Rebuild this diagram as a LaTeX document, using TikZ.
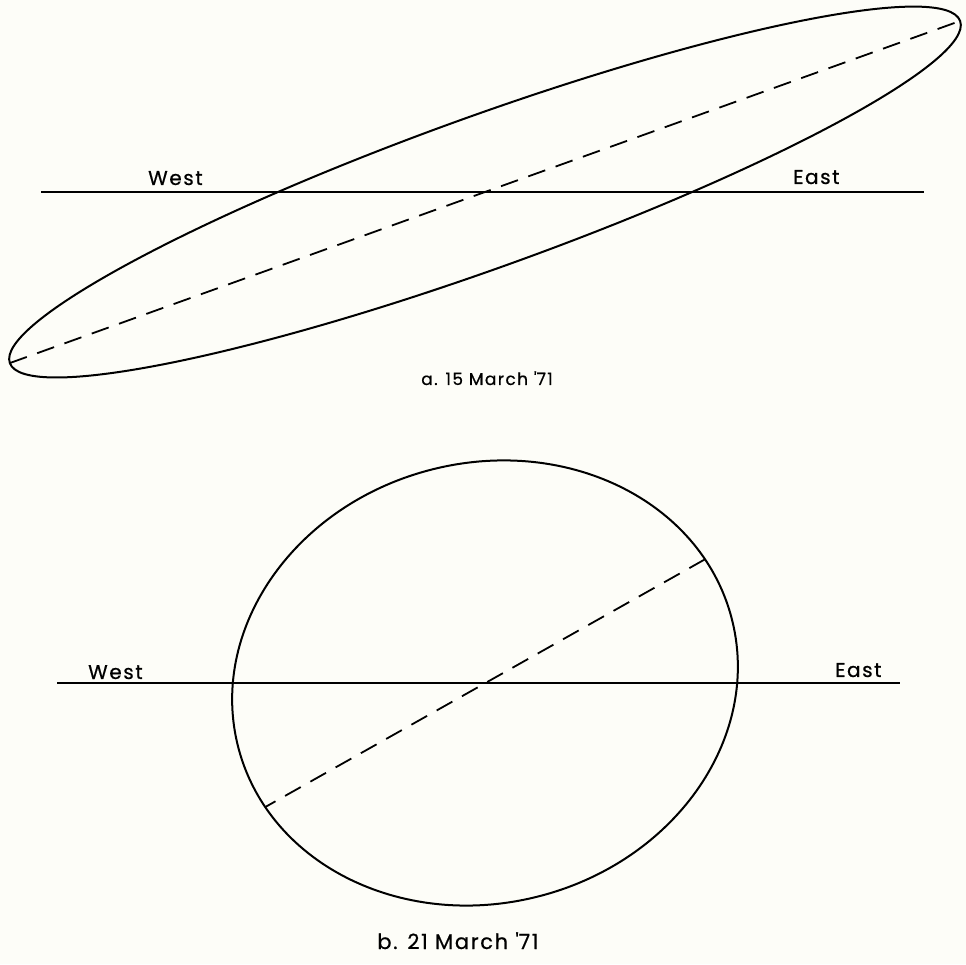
\documentclass[tikz,border=0pt]{standalone}
\usepackage{fontspec}
\setmainfont{Poppins}[LetterSpace=8, FakeBold=0.6]
\usetikzlibrary{intersections,calc}
\definecolor{paper}{RGB}{253,253,248}
\begin{document}
\begin{tikzpicture}[x=1pt,y=1pt,
  curve/.style={line width=2pt},
  axisline/.style={line width=1.8pt, dash pattern=on 18pt off 11pt},
  ewline/.style={line width=2pt},
  lbl/.style={font=\fontsize{20}{20}\selectfont, inner sep=0pt},
  capt/.style={font=\fontsize{17}{17}\selectfont, inner sep=0pt}]
\useasboundingbox[fill=paper] (0,0) rectangle (966,964);

% ---- a. 15 March '71
\coordinate (ca) at (485,772);
\draw[curve, rotate around={19.8:(ca)}] (ca) ellipse [x radius=505, y radius=76];
\coordinate (aL) at ($(ca)+(199.8:505)$);
\coordinate (aR) at ($(ca)+(19.8:505)$);
\draw[axisline] (aL) -- (aR);
\coordinate (wa1) at (41,772);
\coordinate (wa2) at (924,772);
\draw[ewline] (wa1) -- (wa2);
\node[lbl, anchor=base west] (westa) at (148,779) {West};
\node[lbl, anchor=base west] (easta) at (793,780) {East};
\node[capt, anchor=base] (capa) at (487,579) {a. 15 March \textquotesingle71};

% ---- b. 21 March '71
\coordinate (cb) at (485,281);
\draw[curve, name path=ellb, rotate around={15:(cb)}] (cb) ellipse [x radius=255, y radius=220];
\coordinate (cd) at (489,283);
\path[name path=diag] ($(cd)+(209.4:330)$) -- ($(cd)+(29.4:330)$);
\path[name intersections={of=ellb and diag, by={d1,d2}}];
\draw[axisline] (d1) -- (d2);
\coordinate (wb1) at (57,281);
\coordinate (wb2) at (900,281);
\draw[ewline] (wb1) -- (wb2);
\node[lbl, anchor=base west] (westb) at (88,285) {West};
\node[lbl, anchor=base west] (eastb) at (835,287) {East};
\node[capt, font=\fontsize{21}{21}\selectfont, anchor=base] (capb) at (458,15) {b. 21 March \textquotesingle71};
\end{tikzpicture}
\end{document}
